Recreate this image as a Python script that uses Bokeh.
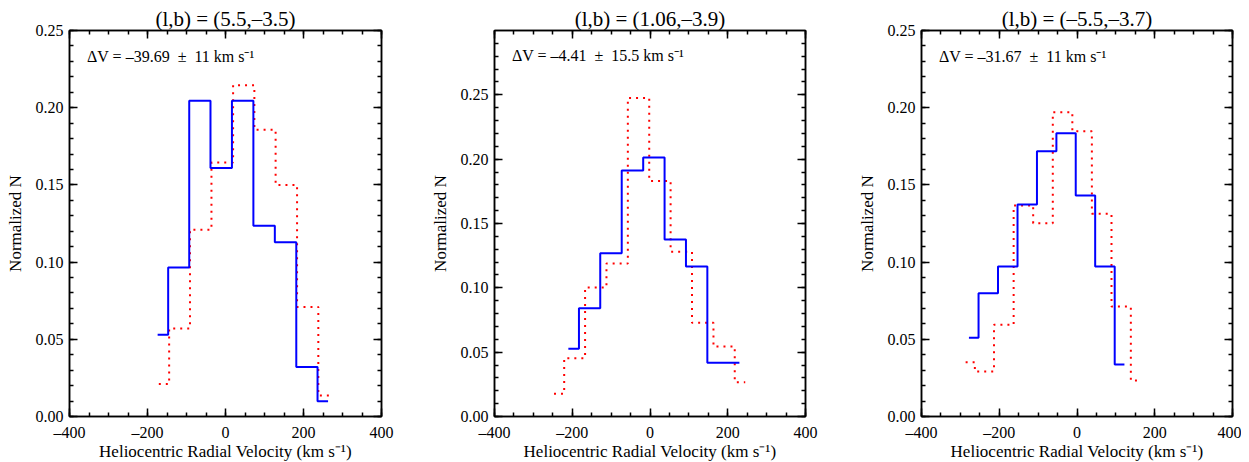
from bokeh.plotting import figure
from bokeh.layouts import row
from bokeh.models import (LinearAxis, Label, Range1d, SingleIntervalTicker,
                          CustomJSTickFormatter, NumeralTickFormatter)
from bokeh.embed import file_html
from bokeh.resources import INLINE

# ---------------- data ----------------
titles = ["(l,b) = (5.5,\u20133.5)", "(l,b) = (1.06,\u20133.9)", "(l,b) = (\u20135.5,\u20133.7)"]
NB = "\u00a0"
notes = ["\u0394V = \u201339.69" + NB * 2 + "\u00b1" + NB * 2 + "11 km s\u207b\u00b9",
         "\u0394V = \u20134.41" + NB * 2 + "\u00b1" + NB * 2 + "15.5 km s\u207b\u00b9",
         "\u0394V = \u201331.67" + NB * 2 + "\u00b1" + NB * 2 + "11 km s\u207b\u00b9"]
ymax = [0.25, 0.30, 0.25]

# panel 1
blue_v1 = [-174, -120, -66, -11, 44, 99, 154, 209, 263]
blue_n1 = [0.053, 0.0965, 0.2045, 0.161, 0.2045, 0.1236, 0.1128, 0.032, 0.0099]
red_v1 = [-171, -118, -64, -8, 47, 101, 156, 211, 265]
red_n1 = [0.021, 0.057, 0.121, 0.1645, 0.2145, 0.1857, 0.150, 0.071, 0.0136]

# panel 2
blue_v2 = [-210, -155.5, -100.5, -45, 10, 65, 120, 175, 230]
blue_n2 = [0.0526, 0.0842, 0.1269, 0.1911, 0.2012, 0.1375, 0.1165, 0.0417, 0.0417]
red_v2 = [-247, -194.5, -139.5, -84.5, -29.5, 25.5, 80.5, 135.5, 191, 245]
red_n2 = [0.0176, 0.0453, 0.1002, 0.1189, 0.2476, 0.1831, 0.128, 0.0728, 0.0544, 0.0267]

# panel 3
blue_v3 = [-278, -228.5, -178, -128, -78, -28, 21.5, 72, 122]
blue_n3 = [0.051, 0.0799, 0.0972, 0.1373, 0.1718, 0.1835, 0.1431, 0.0972, 0.0337]
red_v3 = [-286.5, -239, -188, -138, -87.5, -37, 13, 63.5, 114, 163]
red_n3 = [0.0352, 0.0291, 0.0594, 0.1367, 0.1252, 0.1971, 0.1848, 0.1313, 0.0712, 0.0233]

blues = [(blue_v1, blue_n1), (blue_v2, blue_n2), (blue_v3, blue_n3)]
reds = [(red_v1, red_n1), (red_v2, red_n2), (red_v3, red_n3)]

# ---------------- layout / style ----------------
FONT = "Liberation Serif"
frame_w = [312, 311, 311]
lefts = [69, 70, 70]
rights = [43, 46, 9]
note_y = [0.233, 0.2805, 0.233]


def style_axis(ax, labels=True):
    ax.axis_line_color = "black"
    ax.axis_line_width = 1.5
    ax.major_tick_in = 8
    ax.major_tick_out = 0
    ax.minor_tick_in = 4
    ax.minor_tick_out = 0
    ax.major_tick_line_width = 1.5
    ax.minor_tick_line_width = 1.5
    ax.major_tick_line_color = "black"
    ax.minor_tick_line_color = "black"
    if labels:
        ax.major_label_text_font = FONT
        ax.major_label_text_font_size = "16px"
        ax.major_label_text_color = "black"
        ax.axis_label_text_font = FONT
        ax.axis_label_text_font_size = "17px"
        ax.axis_label_text_font_style = "normal"
        ax.axis_label_text_color = "black"
    else:
        ax.formatter = CustomJSTickFormatter(code="return '';")
        ax.major_label_text_font_size = "1px"
        ax.major_label_standoff = 0


figs = []
for i in range(3):
    p = figure(frame_width=frame_w[i], frame_height=386, output_backend="svg",
               toolbar_location=None,
               x_range=Range1d(-400, 400), y_range=Range1d(0, ymax[i]),
               min_border_left=lefts[i], min_border_right=rights[i],
               min_border_top=30, min_border_bottom=45)
    p.grid.visible = False
    p.outline_line_color = "black"
    p.outline_line_width = 1.5
    p.background_fill_color = "white"
    p.border_fill_color = "white"

    p.title.text = titles[i]
    p.title.align = "center"
    p.title.text_font = FONT
    p.title.text_font_size = "21px"
    p.title.text_font_style = "normal"
    p.title.text_color = "black"
    p.title.standoff = 0

    xa = p.xaxis[0]
    xa.ticker = SingleIntervalTicker(interval=200, num_minor_ticks=4)
    xa.formatter = CustomJSTickFormatter(
        code="return (tick < 0 ? '\\u2013' : '') + Math.abs(tick).toFixed(0);")
    xa.axis_label = "Heliocentric Radial Velocity (km s\u207b\u00b9)"
    style_axis(xa)
    xa.major_label_standoff = 7
    xa.axis_label_standoff = -2

    ya = p.yaxis[0]
    ya.ticker = SingleIntervalTicker(interval=0.05, num_minor_ticks=5)
    ya.formatter = NumeralTickFormatter(format="0.00")
    ya.axis_label = "Normalized N"
    style_axis(ya)
    ya.major_label_standoff = 6
    ya.axis_label_standoff = 8

    top = LinearAxis(ticker=SingleIntervalTicker(interval=200, num_minor_ticks=4))
    style_axis(top, labels=False)
    p.add_layout(top, "above")
    right = LinearAxis(ticker=SingleIntervalTicker(interval=0.05, num_minor_ticks=5))
    style_axis(right, labels=False)
    p.add_layout(right, "right")

    bv, bn = blues[i]
    rv, rn = reds[i]
    p.step(rv, rn, mode="center", line_color="#ff0000", line_width=2, line_dash="2 5")
    p.step(bv, bn, mode="center", line_color="#0000ff", line_width=2)

    p.add_layout(Label(x=-355, y=note_y[i], text=notes[i], text_font=FONT,
                       text_font_size="16px", text_baseline="middle", text_color="black"))
    figs.append(p)

layout = row(*figs)
open("out.html", "w").write(file_html(layout, INLINE))
